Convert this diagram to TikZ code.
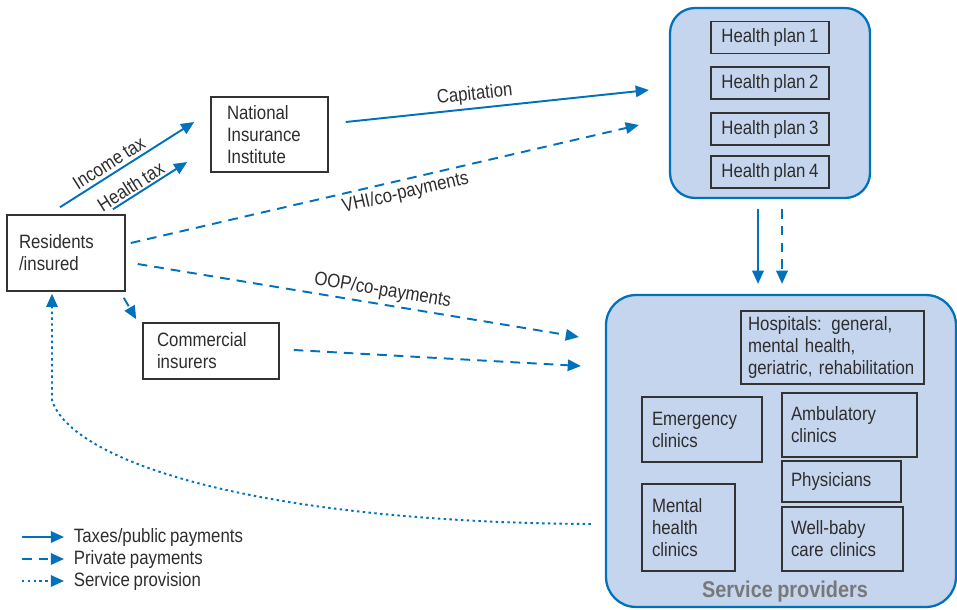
\documentclass[tikz,border=0pt]{standalone}
\usepackage{fontspec}
\setmainfont{Liberation Sans}[FakeStretch=0.87, WordSpace=0.8]
\usepackage{tikz}
\usetikzlibrary{positioning,calc,arrows.meta}

\definecolor{flowblue}{RGB}{0,114,188}
\definecolor{panelfill}{RGB}{198,213,238}
\definecolor{boxline}{RGB}{51,51,51}
\definecolor{inktext}{RGB}{45,45,45}
\definecolor{spgray}{RGB}{120,120,120}

\tikzset{
  unit/.style={draw=boxline, line width=0.9pt, text=inktext, align=left, inner ysep=0pt},
  plan/.style={unit, align=center, minimum width=2.36cm, minimum height=0.64cm, inner xsep=0pt},
  panel/.style={draw=flowblue, fill=panelfill, line width=1.3pt},
  flow/.style={flowblue, line width=1.1pt, -{Triangle[length=7.5pt,width=6.5pt]}},
  pubpay/.style={flow},
  privpay/.style={flow, dash pattern=on 5.5pt off 4pt},
  service/.style={flow, dash pattern=on 1.4pt off 1.9pt},
  lbl/.style={text=inktext, inner sep=2pt}
}

\begin{document}
\begin{tikzpicture}[x=0.02cm, y=-0.02cm, font=\fontsize{11}{12.5}\selectfont]
    \useasboundingbox (0,0) rectangle (957,609);

    % Health plans panel
    \node[panel, rounded corners=0.5cm, minimum width=4cm, minimum height=3.8cm] (hp) at (770,103) {};
    \node[plan] (hp1) at (770,37.5) {Health plan 1};
    \node[plan] (hp2) at (770,83) {Health plan 2};
    \node[plan] (hp3) at (770,129) {Health plan 3};
    \node[plan] (hp4) at (770,172) {Health plan 4};

    % Service providers panel
    \node[panel, rounded corners=0.6cm, minimum width=7cm, minimum height=6.24cm] (sp) at (781,451) {};
    \node[font=\fontsize{13}{14}\selectfont\bfseries, text=spgray] (sptitle) at (785,592) {Service providers};
    \node[unit, minimum width=3.66cm, minimum height=1.46cm, inner xsep=0.14cm, text width=3.38cm] (hosp) at (832.5,347.5) {Hospitals: general,\\mental health,\\geriatric, rehabilitation};
    \node[unit, minimum width=2.4cm, minimum height=1.3cm, inner xsep=0.2cm, text width=2cm] (emer) at (702,429.5) {Emergency\\clinics};
    \node[unit, minimum width=2.7cm, minimum height=1.28cm, inner xsep=0.18cm, text width=2.34cm] (amb) at (849.5,425) {Ambulatory\\clinics};
    \node[unit, minimum width=2.38cm, minimum height=0.82cm, inner xsep=0.18cm, text width=2.02cm] (phys) at (841.5,481.5) {Physicians};
    \node[unit, minimum width=2.42cm, minimum height=1.28cm, inner xsep=0.18cm, text width=2.06cm] (well) at (842.5,539) {Well-baby\\care clinics};
    \node[unit, minimum width=1.86cm, minimum height=1.74cm, inner xsep=0.2cm, text width=1.46cm] (ment) at (688.5,527.5) {Mental\\health\\clinics};

    % Payers
    \node[unit, minimum width=2.36cm, minimum height=1.52cm, inner xsep=0.24cm, text width=1.88cm] (res) at (66,253) {Residents\\/insured};
    \node[unit, minimum width=2.34cm, minimum height=1.5cm, inner xsep=0.32cm, text width=1.7cm] (nii) at (269.5,134.5) {National\\Insurance\\Institute};
    \node[unit, minimum width=2.72cm, minimum height=1.12cm, inner xsep=0.28cm, text width=2.16cm] (com) at (211,351) {Commercial\\insurers};

    % Taxes and public payments
    \draw[pubpay] ($(res.north)+(-6,-7)$) -- node[lbl, pos=0.41, sloped, above] {Income tax} ($(nii.west)+(-16,-12.5)$);
    \draw[pubpay] ($(res.north)+(47,-5)$) -- node[lbl, pos=0.31, sloped, above, inner sep=1pt] {Health tax} ($(nii.west)+(-23,27.5)$);
    \draw[pubpay] ($(nii.east)+(17,-12.5)$) -- node[lbl, pos=0.43, sloped, above] {Capitation} ($(hp.west)+(-20,-13)$);
    \draw[pubpay] ($(hp.south)+(-12,10)$) -- ($(sp.north)+(-23,-10)$);

    % Private payments
    \draw[privpay] ($(res.east)+(5,-10)$) -- node[lbl, pos=0.535, sloped, below] {VHI/co-payments} ($(hp.west)+(-30,22)$);
    \draw[privpay] ($(res.east)+(12,11)$) -- node[lbl, pos=0.55, sloped, above] {OOP/co-payments} ($(sp.west)+(-26,-114)$);
    \draw[privpay] ($(res.south east)+(-2,6)$) -- ($(com.north west)+(-6,-3)$);
    \draw[privpay] ($(com.east)+(14,-1)$) -- ($(sp.west)+(-24,-85)$);
    \draw[privpay] ($(hp.south)+(12,10)$) -- ($(sp.north)+(1,-10)$);

    % Service provision
    \draw[service] ($(sp.west)+(-14,73)$) .. controls (250,522) and (70,460) .. (52,400) -- ($(res.south)+(-14,2)$);

    % Legend
    \node[lbl, anchor=west] (leg1) at (70,537) {Taxes/public payments};
    \node[lbl, anchor=west] (leg2) at (70,559) {Private payments};
    \node[lbl, anchor=west] (leg3) at (70,581) {Service provision};
    \draw[pubpay] ($(leg1.west)+(-48,0)$) -- ($(leg1.west)+(-6,0)$);
    \draw[privpay] ($(leg2.west)+(-48,0)$) -- ($(leg2.west)+(-6,0)$);
    \draw[service] ($(leg3.west)+(-48,0)$) -- ($(leg3.west)+(-6,0)$);
\end{tikzpicture}
\end{document}
